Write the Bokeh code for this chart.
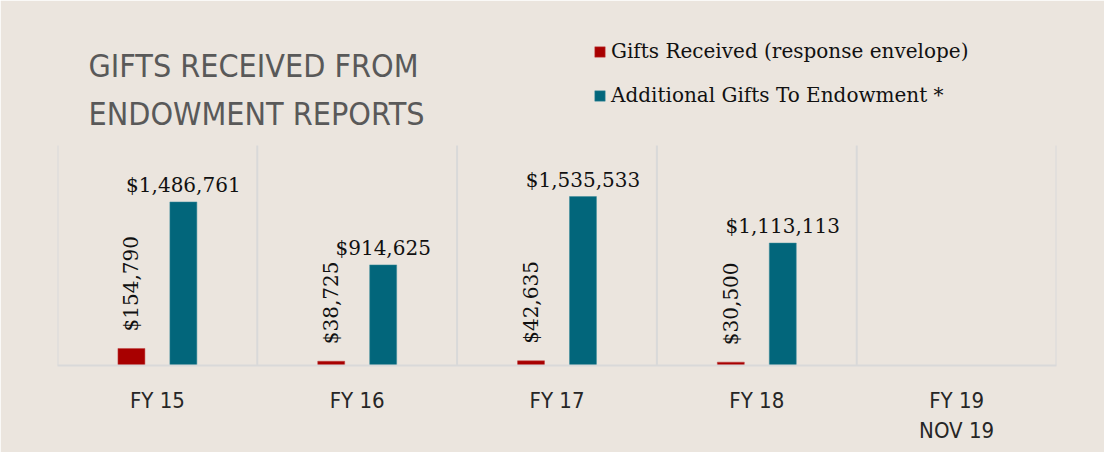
import numpy as np
from bokeh.plotting import figure
from bokeh.models import (Range1d, FixedTicker, Label, Legend, LegendItem,
                          ColumnDataSource)
from bokeh.core.properties import value
from bokeh.embed import file_html
from bokeh.resources import INLINE

categories = ["FY 15", "FY 16", "FY 17", "FY 18", "FY 19\nNOV 19"]
gifts_received = [154790, 38725, 42635, 30500, 0]
additional_gifts = [1486761, 914625, 1535533, 1113113, 0]
series_names = ["Gifts Received (response envelope)", "Additional Gifts To Endowment *"]
y_max = 2000000

BG = "#EBE5DE"
RED = "#A80000"
TEAL = "#02667B"
GRID = "#D9D9D9"
SERIF_NAME = "DejaVu Serif"
NARROW_NAME = "DejaVu Sans Condensed"
SERIF = value(SERIF_NAME)

W, H = 1104, 452
FL, FR, FT, FB = 57, 1056, 20, 365       # frame edges in page pixels
PLOT_TOP = 145                           # where y_max sits
n = len(categories)
centers = np.arange(n) + 0.5
off = 0.13
bw = 0.135
y_end = y_max * (FB - FT) / (FB - PLOT_TOP)

def fmt(v):
    return "${:,}".format(v)

src_r = ColumnDataSource(dict(
    x=[c - off for c, v in zip(centers, gifts_received) if v > 0],
    y=[v for v in gifts_received if v > 0],
    lab=[fmt(v) for v in gifts_received if v > 0]))
src_t = ColumnDataSource(dict(
    x=[c + off for c, v in zip(centers, additional_gifts) if v > 0],
    y=[v for v in additional_gifts if v > 0],
    lab=[fmt(v) for v in additional_gifts if v > 0]))

p = figure(width=W, height=H, output_backend="svg", toolbar_location=None,
           x_range=Range1d(0, n), y_range=Range1d(0, y_end),
           min_border_left=FL, min_border_right=W - FR, min_border_top=FT,
           min_border_bottom=H - FB)
p.title.visible = False
p.background_fill_color = BG
p.border_fill_color = BG
p.outline_line_color = BG
p.outline_line_width = 2

# category separators (vertical lines between categories)
bounds = list(range(n + 1))
p.segment(x0=bounds, x1=bounds, y0=[0] * len(bounds), y1=[y_max] * len(bounds),
          line_color=GRID, line_width=2)

r_red = p.vbar(x="x", top="y", width=bw, source=src_r, fill_color=RED,
               line_color="#C04040", line_width=0.5)
r_teal = p.vbar(x="x", top="y", width=bw, source=src_t, fill_color=TEAL,
                line_color="#3A8A9A", line_width=0.5)

p.text(x="x", y="y", text="lab", source=src_t, text_font=SERIF,
       text_font_size="20px", text_color="#111111", text_align="center",
       text_baseline="alphabetic", y_offset=-17)
p.text(x="x", y="y", text="lab", source=src_r, text_font=SERIF,
       text_font_size="20px", text_color="#111111", text_align="left",
       text_baseline="middle", angle=np.pi / 2, y_offset=-17)

# axes
p.yaxis.visible = False
p.ygrid.grid_line_color = None
p.xgrid.grid_line_color = None
xa = p.xaxis[0]
xa.ticker = FixedTicker(ticks=list(centers))
xa.major_label_overrides = {float(c): lab for c, lab in zip(centers, categories)}
xa.major_tick_line_color = None
xa.minor_tick_line_color = None
xa.axis_line_color = GRID
xa.axis_line_width = 2
xa.major_label_text_font = NARROW_NAME
xa.major_label_text_font_size = "22px"
xa.major_label_text_color = "#262626"
xa.major_label_standoff = 16

# title (inside the frame, in screen units from the frame's bottom-left)
for txt, base in [("GIFTS RECEIVED FROM", 65), ("ENDOWMENT REPORTS", 113)]:
    p.add_layout(Label(x=88 - FL, y=FB - base, x_units="screen", y_units="screen",
                       text=txt, text_font=NARROW_NAME, text_font_size="32px",
                       text_color="#595959", text_baseline="alphabetic"))

legend = Legend(items=[LegendItem(label=series_names[0], renderers=[r_red]),
                       LegendItem(label=series_names[1], renderers=[r_teal])],
                location=(593 - FL, FB - 107), orientation="vertical",
                label_text_font=SERIF_NAME, label_text_font_size="20px",
                label_text_color="#111111", glyph_width=13, glyph_height=13,
                label_standoff=5, spacing=20, padding=0, margin=0,
                background_fill_alpha=0, border_line_color=None)
p.add_layout(legend)

open("out.html", "w").write(file_html(p, INLINE))
